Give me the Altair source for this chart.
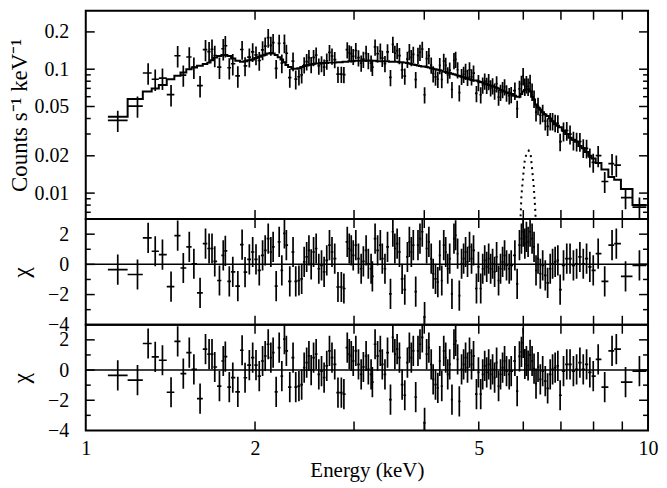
import numpy as np
import pandas as pd
import altair as alt

# ---- data ----
energy = [1.140, 1.236, 1.291, 1.329, 1.369, 1.418, 1.457, 1.491, 1.528, 1.557,
          1.597, 1.633, 1.657, 1.677, 1.696, 1.729, 1.756, 1.771, 1.800, 1.826,
          1.864, 1.897, 1.920, 1.954, 1.981, 2.008, 2.035, 2.063, 2.085, 2.111,
          2.134, 2.154, 2.181, 2.208, 2.232, 2.256, 2.274, 2.306, 2.337, 2.363,
          2.394, 2.421, 2.446, 2.471, 2.494, 2.517, 2.542, 2.569, 2.597, 2.626,
          2.654, 2.683, 2.713, 2.741, 2.772, 2.809, 2.848, 2.878, 2.918, 2.942,
          2.966, 2.990, 3.022, 3.055, 3.089, 3.117, 3.152, 3.181, 3.217, 3.234,
          3.270, 3.304, 3.341, 3.368, 3.405, 3.441, 3.483, 3.517, 3.546, 3.579,
          3.613, 3.653, 3.693, 3.733, 3.763, 3.793, 3.824, 3.862, 3.898, 3.930,
          3.967, 4.005, 4.039, 4.076, 4.115, 4.148, 4.188, 4.228, 4.262, 4.297,
          4.332, 4.367, 4.403, 4.439, 4.480, 4.517, 4.548, 4.585, 4.617, 4.660,
          4.699, 4.737, 4.775, 4.814, 4.854, 4.894, 4.953, 4.993, 5.040, 5.081,
          5.123, 5.165, 5.207, 5.249, 5.291, 5.335, 5.379, 5.422, 5.466, 5.512,
          5.557, 5.602, 5.664, 5.710, 5.797, 5.851, 5.907, 5.955, 5.996, 6.038,
          6.077, 6.119, 6.169, 6.220, 6.270, 6.321, 6.373, 6.433, 6.496, 6.565,
          6.629, 6.699, 6.765, 6.836, 6.912, 6.977, 7.074, 7.169, 7.266, 7.367,
          7.464, 7.565, 7.670, 7.775, 7.880, 7.990, 8.153, 8.374, 8.630, 8.782,
          9.120, 9.654]

counts = [0.0387, 0.0504, 0.0932, 0.0830, 0.0846, 0.0623, 0.1284, 0.0897, 0.1255, 0.1038,
          0.0736, 0.1441, 0.1388, 0.1449, 0.1290, 0.1038, 0.1463, 0.1547, 0.1027, 0.1107,
          0.0883, 0.1442, 0.1063, 0.1250, 0.1382, 0.1303, 0.1176, 0.1431, 0.1538, 0.1800,
          0.1555, 0.1637, 0.1014, 0.1618, 0.1120, 0.1625, 0.1345, 0.0856, 0.1164, 0.0831,
          0.0869, 0.0901, 0.1085, 0.1151, 0.1241, 0.1090, 0.1244, 0.1299, 0.1062, 0.1109,
          0.1039, 0.1166, 0.1366, 0.1278, 0.1196, 0.0911, 0.0911, 0.0905, 0.1438, 0.1357,
          0.1333, 0.1269, 0.1415, 0.1238, 0.1120, 0.1205, 0.1344, 0.1177, 0.1120, 0.1038,
          0.1512, 0.1333, 0.1402, 0.1227, 0.1110, 0.1380, 0.0858, 0.1589, 0.1346, 0.1413,
          0.1289, 0.0987, 0.0880, 0.1205, 0.1388, 0.1244, 0.1318, 0.0825, 0.1294, 0.1370,
          0.1451, 0.0622, 0.1217, 0.1288, 0.1079, 0.0920, 0.0866, 0.0830, 0.1072, 0.0826,
          0.1161, 0.1074, 0.0900, 0.0984, 0.0686, 0.1176, 0.1202, 0.0990, 0.0646, 0.0875,
          0.0910, 0.0961, 0.0860, 0.0988, 0.0868, 0.0931, 0.0637, 0.0781, 0.0622, 0.0746,
          0.0802, 0.0742, 0.0794, 0.0708, 0.0734, 0.0668, 0.0764, 0.0596, 0.0651, 0.0686,
          0.0722, 0.0644, 0.0612, 0.0624, 0.0672, 0.0480, 0.0694, 0.0764, 0.0880, 0.0726,
          0.0760, 0.0725, 0.0776, 0.0661, 0.0579, 0.0450, 0.0506, 0.0425, 0.0445, 0.0382,
          0.0345, 0.0382, 0.0382, 0.0369, 0.0365, 0.0260, 0.0316, 0.0320, 0.0299, 0.0267,
          0.0262, 0.0261, 0.0232, 0.0230, 0.0195, 0.0177, 0.0201, 0.0124, 0.0173, 0.0168,
          0.0092, 0.0077]

count_err = [0.0076, 0.0099, 0.0183, 0.0163, 0.0166, 0.0122, 0.0252, 0.0176, 0.0246, 0.0203,
             0.0144, 0.0282, 0.0272, 0.0284, 0.0253, 0.0203, 0.0287, 0.0303, 0.0201, 0.0217,
             0.0173, 0.0249, 0.0184, 0.0216, 0.0239, 0.0225, 0.0203, 0.0248, 0.0266, 0.0311,
             0.0269, 0.0283, 0.0175, 0.0280, 0.0194, 0.0281, 0.0233, 0.0148, 0.0201, 0.0144,
             0.0130, 0.0135, 0.0163, 0.0173, 0.0186, 0.0164, 0.0187, 0.0195, 0.0159, 0.0166,
             0.0156, 0.0175, 0.0205, 0.0192, 0.0179, 0.0137, 0.0137, 0.0136, 0.0216, 0.0204,
             0.0200, 0.0190, 0.0212, 0.0186, 0.0168, 0.0181, 0.0202, 0.0177, 0.0168, 0.0156,
             0.0227, 0.0200, 0.0210, 0.0184, 0.0167, 0.0207, 0.0129, 0.0238, 0.0202, 0.0212,
             0.0193, 0.0148, 0.0132, 0.0181, 0.0208, 0.0187, 0.0198, 0.0124, 0.0194, 0.0206,
             0.0218, 0.0093, 0.0183, 0.0193, 0.0162, 0.0138, 0.0130, 0.0125, 0.0161, 0.0124,
             0.0174, 0.0161, 0.0135, 0.0148, 0.0103, 0.0176, 0.0180, 0.0149, 0.0097, 0.0131,
             0.0137, 0.0144, 0.0129, 0.0148, 0.0130, 0.0140, 0.0096, 0.0117, 0.0093, 0.0112,
             0.0120, 0.0111, 0.0119, 0.0106, 0.0110, 0.0100, 0.0115, 0.0089, 0.0098, 0.0103,
             0.0108, 0.0097, 0.0092, 0.0094, 0.0108, 0.0077, 0.0112, 0.0123, 0.0142, 0.0117,
             0.0122, 0.0117, 0.0125, 0.0106, 0.0093, 0.0072, 0.0081, 0.0068, 0.0072, 0.0062,
             0.0056, 0.0062, 0.0062, 0.0059, 0.0059, 0.0042, 0.0055, 0.0055, 0.0052, 0.0046,
             0.0045, 0.0045, 0.0040, 0.0040, 0.0034, 0.0031, 0.0039, 0.0024, 0.0034, 0.0033,
             0.0018, 0.0015]

model = [0.0414, 0.0575, 0.066, 0.070, 0.0745, 0.083, 0.0885, 0.094, 0.100, 0.103,
         0.1065, 0.110, 0.113, 0.118, 0.124, 0.128, 0.130, 0.130, 0.128, 0.122,
         0.117, 0.115, 0.116, 0.118, 0.120, 0.123, 0.126, 0.129, 0.131, 0.134,
         0.135, 0.134, 0.130, 0.125, 0.120, 0.114, 0.108, 0.104, 0.101, 0.101,
         0.102, 0.104, 0.106, 0.107, 0.108, 0.109, 0.110, 0.111, 0.111, 0.112,
         0.112, 0.112, 0.113, 0.113, 0.113, 0.114, 0.114, 0.115, 0.115, 0.116,
         0.116, 0.116, 0.117, 0.117, 0.117, 0.117, 0.117, 0.117, 0.117, 0.117,
         0.117, 0.116, 0.116, 0.116, 0.116, 0.116, 0.115, 0.115, 0.115, 0.115,
         0.114, 0.114, 0.113, 0.112, 0.111, 0.110, 0.109, 0.108, 0.107, 0.106,
         0.105, 0.105, 0.104, 0.103, 0.102, 0.101, 0.100, 0.099, 0.098, 0.097,
         0.096, 0.095, 0.094, 0.093, 0.092, 0.091, 0.090, 0.089, 0.088, 0.087,
         0.086, 0.085, 0.084, 0.083, 0.082, 0.081, 0.081, 0.080, 0.079, 0.078,
         0.077, 0.076, 0.075, 0.074, 0.073, 0.072, 0.071, 0.070, 0.068, 0.067,
         0.066, 0.065, 0.064, 0.063, 0.061, 0.060, 0.060, 0.063, 0.066, 0.068,
         0.069, 0.069, 0.066, 0.060, 0.057, 0.052, 0.049, 0.047, 0.045, 0.043,
         0.042, 0.040, 0.038, 0.036, 0.035, 0.034, 0.032, 0.030, 0.028, 0.027,
         0.026, 0.024, 0.023, 0.0215, 0.020, 0.019, 0.0175, 0.0155, 0.0135, 0.0128,
         0.0108, 0.0080]

chi_continuum = [-0.35, -0.67, 1.76, 0.87, 0.65, -1.47, 1.9, -0.24, 1.16, 0.04,
                 -1.89, 1.38, 1.05, 1.05, 0.2, -1.07, 0.6, 0.89, -1.13, -0.5,
                 -1.44, 1.31, -0.51, 0.33, 0.82, 0.33, -0.4, 0.6, 0.93, 1.71,
                 0.82, 1.16, -1.44, 1.49, -0.4, 2.05, 1.27, -1.13, 0.82, -1.13,
                 -1.07, -0.96, 0.16, 0.49, 0.93, 0.0, 0.82, 1.05, -0.29, -0.07,
                 -0.5, 0.27, 1.27, 0.82, 0.38, -1.5, -1.5, -1.6, 1.49, 1.05,
                 0.93, 0.6, 1.27, 0.38, -0.29, 0.2, 0.93, 0.04, -0.29, -0.8,
                 1.71, 0.93, 1.27, 0.38, -0.29, 1.16, -1.96, 2.16, 1.05, 1.38,
                 0.82, -0.96, -1.67, 0.49, 1.49, 0.82, 1.27, -1.8, 1.27, 1.71,
                 2.16, -3.5, 1.05, 1.49, 0.38, -0.62, -0.96, -1.18, 0.6, -1.07,
                 1.27, 0.82, -0.29, 0.38, -1.96, 1.71, 1.93, 0.71, -2.07, 0.04,
                 0.38, 0.82, 0.16, 1.16, 0.38, 0.93, -1.6, -0.16, -1.6, -0.29,
                 0.27, -0.16, 0.38, -0.29, 0.04, -0.5, 0.49, -1.07, -0.29, 0.16,
                 0.6, -0.07, -0.29, -0.07, 0.6, -1.29, 1.27, 1.71, 2.16, 1.38,
                 1.82, 1.49, 2.16, 1.71, 1.16, -0.4, 0.38, -0.62, -0.07, -0.73,
                 -1.22, -0.29, 0.04, 0.16, 0.27, -1.67, -0.07, 0.38, 0.38, -0.07,
                 0.04, 0.49, 0.04, 0.38, -0.16, -0.4, 0.71, -1.13, 1.27, 1.38,
                 -0.8, -0.07]

chi_with_line = [-0.35, -0.67, 1.76, 0.87, 0.65, -1.47, 1.9, -0.24, 1.16, 0.04,
                 -1.89, 1.38, 1.05, 1.05, 0.2, -1.07, 0.6, 0.89, -1.13, -0.5,
                 -1.44, 1.31, -0.51, 0.33, 0.82, 0.33, -0.4, 0.6, 0.93, 1.71,
                 0.82, 1.16, -1.44, 1.49, -0.4, 2.05, 1.27, -1.13, 0.82, -1.13,
                 -1.07, -0.96, 0.16, 0.49, 0.93, 0.0, 0.82, 1.05, -0.29, -0.07,
                 -0.5, 0.27, 1.27, 0.82, 0.38, -1.5, -1.5, -1.6, 1.49, 1.05,
                 0.93, 0.6, 1.27, 0.38, -0.29, 0.2, 0.93, 0.04, -0.29, -0.8,
                 1.71, 0.93, 1.27, 0.38, -0.29, 1.16, -1.96, 2.16, 1.05, 1.38,
                 0.82, -0.96, -1.67, 0.49, 1.49, 0.82, 1.27, -1.8, 1.27, 1.71,
                 2.16, -3.5, 1.05, 1.49, 0.38, -0.62, -0.96, -1.18, 0.6, -1.07,
                 1.27, 0.82, -0.29, 0.38, -1.96, 1.71, 1.93, 0.71, -2.07, 0.04,
                 0.38, 0.82, 0.16, 1.16, 0.38, 0.93, -1.6, -0.16, -1.6, -0.29,
                 0.27, -0.16, 0.38, -0.29, 0.04, -0.5, 0.49, -1.07, -0.29, 0.16,
                 0.6, -0.07, -0.29, -0.07, 0.6, -1.4, 0.9, 1.2, 1.8, 0.4,
                 0.6, 0.3, 1.0, 0.6, 0.1, -0.9, 0.2, -0.62, -0.07, -0.73,
                 -1.22, -0.29, 0.04, 0.16, 0.27, -1.67, -0.07, 0.38, 0.38, -0.07,
                 0.04, 0.49, 0.04, 0.38, -0.16, -0.4, 0.71, -1.13, 1.27, 1.38,
                 -0.8, -0.07]

line_energy = [5.92, 5.93, 5.955, 5.99, 6.03, 6.075, 6.135, 6.185, 6.22, 6.26, 6.30, 6.32]
line_flux = [0.0052, 0.0060, 0.0096, 0.0130, 0.0178, 0.0207, 0.0220, 0.0203, 0.0157, 0.0116, 0.0075, 0.0052]

x_tick_values = [2, 3, 4, 5, 6, 7, 8, 9]
x_label_values = [1, 2, 5, 10]
y_major = [0.2, 0.1, 0.05, 0.02, 0.01]
y_minor = [0.09, 0.08, 0.07, 0.06, 0.04, 0.03, 0.009, 0.008, 0.007]
chi_major = [2, 0, -2]
chi_minor = [1, -1, -3]
chi_label_values = [2, 0, -2, -4]

# ---- layout constants ----
W = 564
H_TOP = 209
H_CHI = 106
MAJOR = 9
MINOR = 5
LW = 1.7
FONT = "Liberation Serif"

# bin edges from the bin centres (geometric midpoints)
log_e = np.log10(np.array(energy))
mid = (log_e[1:] + log_e[:-1]) / 2
lo = np.concatenate([[2 * log_e[0] - mid[0]], mid])
hi = np.concatenate([mid, [2 * log_e[-1] - mid[-1]]])
c = np.array(counts)
err = np.array(count_err)
chi1 = np.array(chi_continuum)
chi2 = np.array(chi_with_line)

df = pd.DataFrame({
    "e": energy, "lo": 10 ** lo, "hi": 10 ** hi,
    "c": c, "c_lo": c - err, "c_hi": c + err,
    "chi1": chi1, "chi1_lo": chi1 - 1, "chi1_hi": chi1 + 1,
    "chi2": chi2, "chi2_lo": chi2 - 1, "chi2_hi": chi2 + 1,
})
steps = pd.DataFrame({
    "e": np.ravel(np.column_stack([10 ** lo, 10 ** hi])),
    "m": np.repeat(np.array(model), 2),
    "k": np.arange(2 * len(model)),
})
gauss = pd.DataFrame({"e": line_energy, "f": line_flux})
zero_df = pd.DataFrame({"z": [0]})

xs = alt.Scale(type="log", domain=[1, 10], nice=False)
ys_top = alt.Scale(type="log", domain=[0.00617, 0.2965], nice=False)
ys_chi = alt.Scale(domain=[-4, 3], nice=False, zero=False)

x_axis_bottom = alt.Axis(values=x_label_values, format="~g", ticks=False, domain=False,
                         grid=False, labelPadding=8, labelFlush=False,
                         title="Energy (keV)", titlePadding=1, titleFontSize=21)
y_axis_top = alt.Axis(values=y_major, format="~g", ticks=False, domain=False, grid=False,
                      labelPadding=17, title="Counts s\u207b\u00b9 keV\u207b\u00b9",
                      titlePadding=2, titleFontSize=23)
y_axis_chi = alt.Axis(values=chi_label_values, format="d", ticks=False, domain=False,
                      grid=False, labelPadding=17, title="\u03c7", titlePadding=14,
                      titleFontSize=24)


def tick_layers(H, yscale, yaxis, xaxis, ymaj, ymin):
    layers = []
    xt = pd.DataFrame({"t": x_tick_values})
    for y0, y1 in [(0, MAJOR), (H - MAJOR, H)]:
        layers.append(alt.Chart(xt).mark_rule(color="black", strokeWidth=1.5).encode(
            x=alt.X("t:Q", scale=xs, axis=xaxis), y=alt.value(y0), y2=alt.value(y1)))
    for vals, L in [(ymaj, MAJOR), (ymin, MINOR)]:
        yt = pd.DataFrame({"t": vals})
        for x0, x1 in [(0, L), (W - L, W)]:
            layers.append(alt.Chart(yt).mark_rule(color="black", strokeWidth=1.5).encode(
                y=alt.Y("t:Q", scale=yscale, axis=yaxis), x=alt.value(x0), x2=alt.value(x1)))
    return layers


# ---- top panel ----
top_layers = [
    alt.Chart(df).mark_rule(color="black", strokeWidth=LW, clip=True).encode(
        x=alt.X("lo:Q", scale=xs, axis=None), x2="hi:Q",
        y=alt.Y("c:Q", scale=ys_top, axis=y_axis_top)),
    alt.Chart(df).mark_rule(color="black", strokeWidth=LW, clip=True).encode(
        x=alt.X("e:Q", scale=xs, axis=None),
        y=alt.Y("c_lo:Q", scale=ys_top, axis=y_axis_top), y2="c_hi:Q"),
    alt.Chart(steps).mark_line(color="black", strokeWidth=2, clip=True).encode(
        x=alt.X("e:Q", scale=xs, axis=None),
        y=alt.Y("m:Q", scale=ys_top, axis=y_axis_top), order="k:Q"),
    alt.Chart(gauss).mark_line(color="black", strokeWidth=2, strokeDash=[2, 4], clip=True).encode(
        x=alt.X("e:Q", scale=xs, axis=None),
        y=alt.Y("f:Q", scale=ys_top, axis=y_axis_top)),
] + tick_layers(H_TOP, ys_top, y_axis_top, None, y_major, y_minor)
top = alt.layer(*top_layers).properties(width=W, height=H_TOP)


def chi_panel(col, xaxis):
    layers = [
        alt.Chart(zero_df).mark_rule(color="black", strokeWidth=1.5).encode(
            y=alt.Y("z:Q", scale=ys_chi, axis=y_axis_chi)),
        alt.Chart(df).mark_rule(color="black", strokeWidth=LW, clip=True).encode(
            x=alt.X("lo:Q", scale=xs, axis=xaxis), x2="hi:Q",
            y=alt.Y(f"{col}:Q", scale=ys_chi, axis=y_axis_chi)),
        alt.Chart(df).mark_rule(color="black", strokeWidth=LW, clip=True).encode(
            x=alt.X("e:Q", scale=xs, axis=xaxis),
            y=alt.Y(f"{col}_lo:Q", scale=ys_chi, axis=y_axis_chi), y2=f"{col}_hi:Q"),
    ] + tick_layers(H_CHI, ys_chi, y_axis_chi, xaxis, chi_major, chi_minor)
    return alt.layer(*layers).properties(width=W, height=H_CHI)


mid_panel = chi_panel("chi1", None)
bot_panel = chi_panel("chi2", x_axis_bottom)

chart = alt.vconcat(top, mid_panel, bot_panel, spacing=0, bounds="flush").properties(
    padding=0, background="white"
).configure_view(
    stroke="black", strokeWidth=2
).configure_axis(
    labelFont=FONT, titleFont=FONT, labelFontSize=20,
    labelColor="black", titleColor="black", titleFontWeight="normal"
)

chart.save("out.html", embed_options={"renderer": "svg", "actions": False})
